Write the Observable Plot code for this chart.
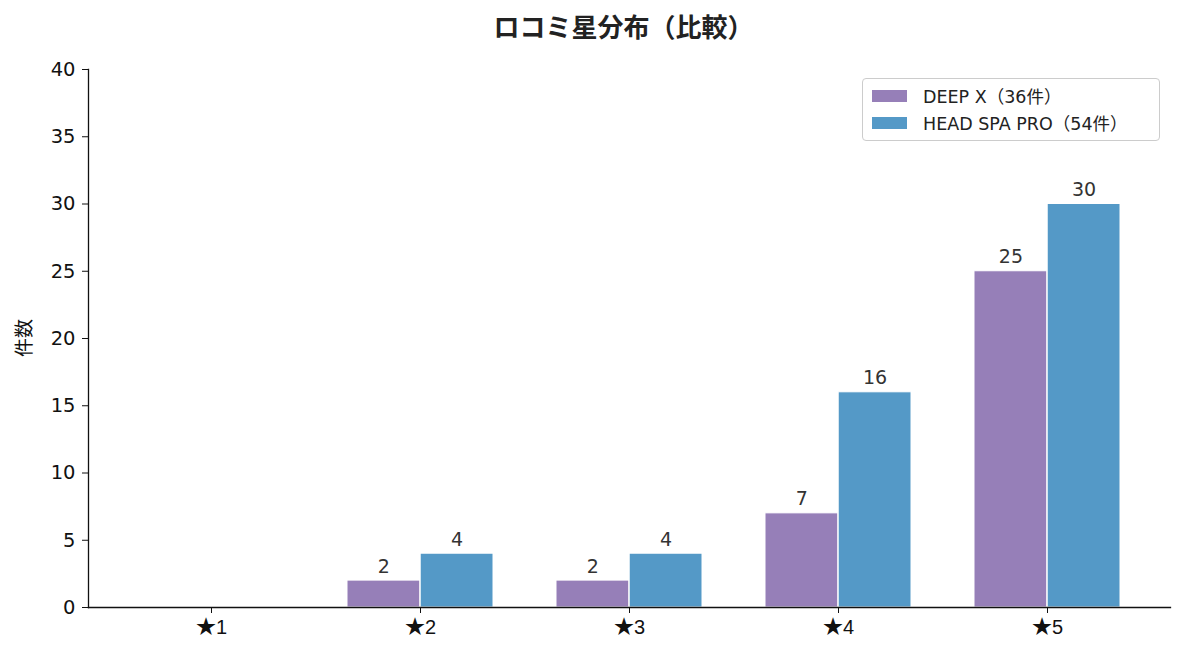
<!DOCTYPE html>
<html><head><meta charset="utf-8">
<script src="https://cdn.jsdelivr.net/npm/d3@7"></script>
<script src="https://cdn.jsdelivr.net/npm/@observablehq/plot@0.6"></script>
<style>
body{margin:0;background:#fff;font-family:"DejaVu Sans","Noto Sans CJK JP",sans-serif;}
#wrap{position:relative;width:1185px;height:657px;}
#title{height:50px;line-height:52px;text-align:center;font-size:26px;font-weight:bold;color:#222;padding-left:62px;box-sizing:border-box;font-family:"Noto Sans CJK JP",sans-serif;}
#legend{position:absolute;left:862px;top:78px;width:298px;height:63px;border:1px solid #ccc;border-radius:4px;box-sizing:border-box;background:#fff;font-size:17.5px;color:#222;padding:3px 0 0 9px;}
.li{display:flex;align-items:center;height:27px;white-space:nowrap;}
.sw{width:35px;height:12px;margin-right:16px;flex:none;}
</style></head>
<body><div id="wrap"><div id="title">ロコミ星分布（比較）</div><div id="chart"></div><div id="legend"></div></div>
<script>
const stars = ["★1","★2","★3","★4","★5"];
const seriesNames = ["DEEP X（36件）","HEAD SPA PRO（54件）"];
const deepX = [0,2,2,7,25];
const headSpa = [0,4,4,16,30];
const colors = ["#967fb8","#5499c7"];
const yTicks = [0,5,10,15,20,25,30,35,40];

const data = [];
stars.forEach((s,i)=>{
  data.push({star:s, series:seriesNames[0], value:deepX[i]});
  data.push({star:s, series:seriesNames[1], value:headSpa[i]});
});
const W = 1185, ML = 88, MR = 15;
const pi = 0.3, po = 0.237;
const step = (W-ML-MR)/(stars.length - pi + 2*po);
const half = step*(1-pi)/2;
const A = data.filter(d=>d.series===seriesNames[0]);
const B = data.filter(d=>d.series===seriesNames[1]);
const FF = '"DejaVu Sans","Noto Sans CJK JP",sans-serif';

const plot = Plot.plot({
  width: W, height: 607,
  marginLeft: ML, marginRight: MR, marginTop: 19, marginBottom: 50,
  style:{fontFamily:FF, fontSize:"18px", color:"#111", background:"#fff"},
  x:{domain:stars, paddingInner:pi, paddingOuter:po, label:null},
  y:{domain:[0,40], label:null},
  marks:[
    Plot.barY(A,{x:"star", y:"value", fill:colors[0], stroke:"#fff", strokeWidth:1, insetRight:half}),
    Plot.barY(B,{x:"star", y:"value", fill:colors[1], stroke:"#fff", strokeWidth:1, insetLeft:half}),
    Plot.text(A.filter(d=>d.value>0),{x:"star", y:"value", text:d=>String(d.value), dx:-half/2, dy:-14, fill:"#333", fontSize:19}),
    Plot.text(B.filter(d=>d.value>0),{x:"star", y:"value", text:d=>String(d.value), dx:half/2, dy:-14, fill:"#333", fontSize:19}),
    Plot.axisY({ticks:yTicks, tickSize:6, tickPadding:7, fontSize:19.5, label:null}),
    Plot.axisX({tickSize:6, tickPadding:6, fontSize:20, fontFamily:'"Liberation Sans","Noto Sans CJK JP",sans-serif', label:null}),
    Plot.frame({anchor:"left", stroke:"#111", strokeWidth:1.3}),
    Plot.frame({anchor:"bottom", stroke:"#111", strokeWidth:1.3})
  ]
});
const svg = d3.select(plot);
svg.append("text").attr("transform","translate(31,288) rotate(-90)").attr("text-anchor","middle")
  .attr("font-size","19px").attr("fill","#111").attr("font-family",'"Noto Sans CJK JP",sans-serif').text("件数");
document.getElementById("chart").appendChild(plot);

const lg = document.getElementById("legend");
seriesNames.forEach((n,i)=>{
  const r = document.createElement("div"); r.className="li";
  r.innerHTML = `<span class="sw" style="background:${colors[i]}"></span><span>${n}</span>`;
  lg.appendChild(r);
});
</script></body></html>
